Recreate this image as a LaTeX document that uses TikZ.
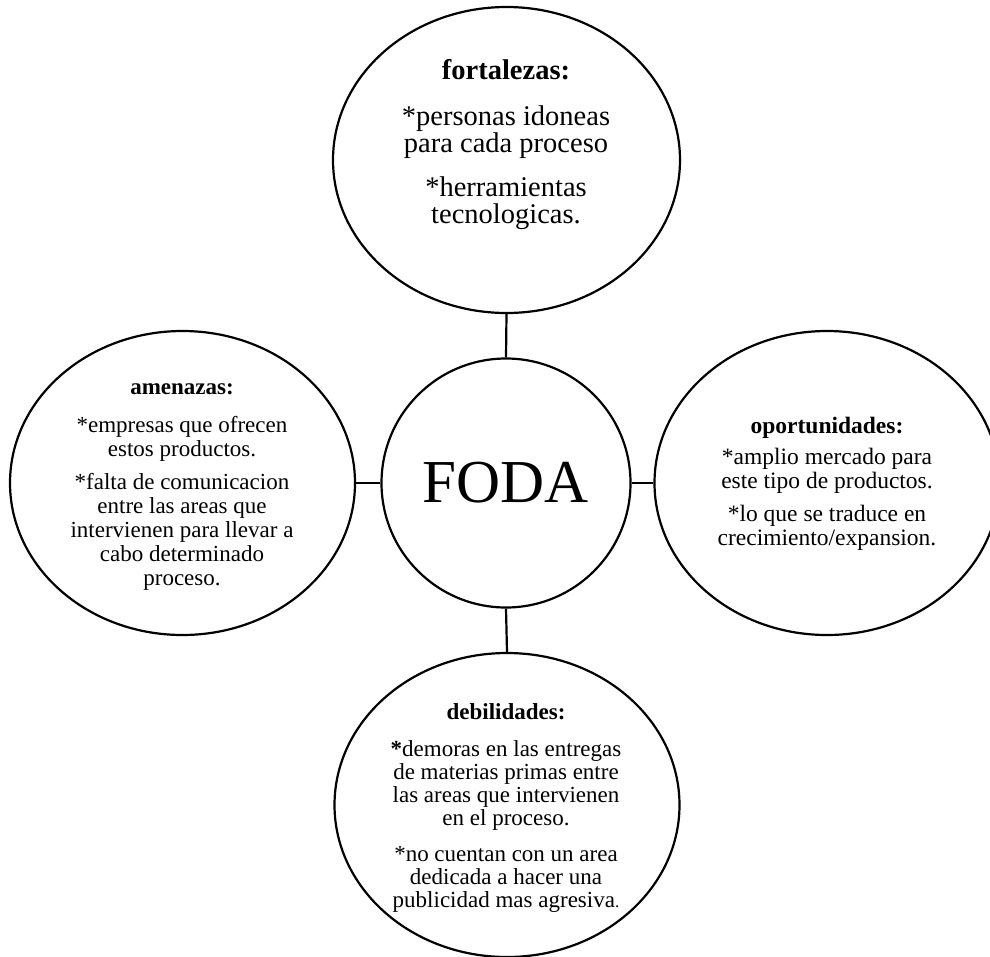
\documentclass[tikz,border=0pt]{standalone}
\usepackage{fontspec}
\setmainfont{Liberation Serif}
\usetikzlibrary{shapes.geometric}
\begin{document}
\begin{tikzpicture}[x=1pt,y=-1pt,
  bubble/.style={draw=black,line width=2.2pt,ellipse,inner sep=0pt,
    minimum width=345pt,minimum height=304pt},
  hub/.style={draw=black,line width=2.2pt,circle,inner sep=0pt,minimum size=249pt},
  link/.style={draw=black,line width=2.2pt},
  txt/.style={align=center,inner sep=0pt,text=black}]
\useasboundingbox (0,0) rectangle (990,956);

% central circle
\node[hub] (foda) at (506,483) {};
\node[txt,font=\fontsize{61}{61}\selectfont] (fodatxt) at (506,483) {FODA};

% the four quadrants
\node[bubble,minimum width=347pt,minimum height=306pt] (fort) at (506.5,160) {};
\node[bubble] (amen) at (182.5,483) {};
\node[bubble] (opor) at (827,483) {};
\node[bubble] (debi) at (507,805) {};

% connectors
\draw[link] (fort.south) -- (foda.north);
\draw[link] (amen.east) -- (foda.west);
\draw[link] (opor.west) -- (foda.east);
\draw[link] (debi.north) -- (foda.south);

% texts
\node[txt,font=\fontsize{28.5}{27.5}\selectfont] (forttxt) at (506,145)
  {\textbf{fortalezas:}\\[18pt]
   *personas idoneas\\
   para cada proceso\\[16pt]
   *herramientas\\
   tecnologicas.};

\node[txt,font=\fontsize{23}{24}\selectfont] (amentxt) at (182,487)
  {\textbf{amenazas:}\\[14pt]
   *empresas que ofrecen\\
   estos productos.\\[9pt]
   *falta de comunicacion\\
   entre las areas que\\
   intervienen para llevar a\\
   cabo determinado\\
   proceso.};

\node[txt,font=\fontsize{23.5}{24}\selectfont] (oportxt) at (827,484)
  {\textbf{oportunidades:}\\[7pt]
   *amplio mercado para\\
   este tipo de productos.\\[9pt]
   *lo que se traduce en\\
   crecimiento/expansion.};

\node[txt,font=\fontsize{23}{23}\selectfont] (debitxt) at (506,808)
  {\textbf{debilidades:}\\[14pt]
   \textbf{*}demoras en las entregas\\
   de materias primas entre\\
   las areas que intervienen\\
   en el proceso.\\[13pt]
   *no cuentan con un area\\
   dedicada a hacer una\\
   publicidad mas agresiva{\fontsize{17}{17}\selectfont.}};
\end{tikzpicture}
\end{document}
